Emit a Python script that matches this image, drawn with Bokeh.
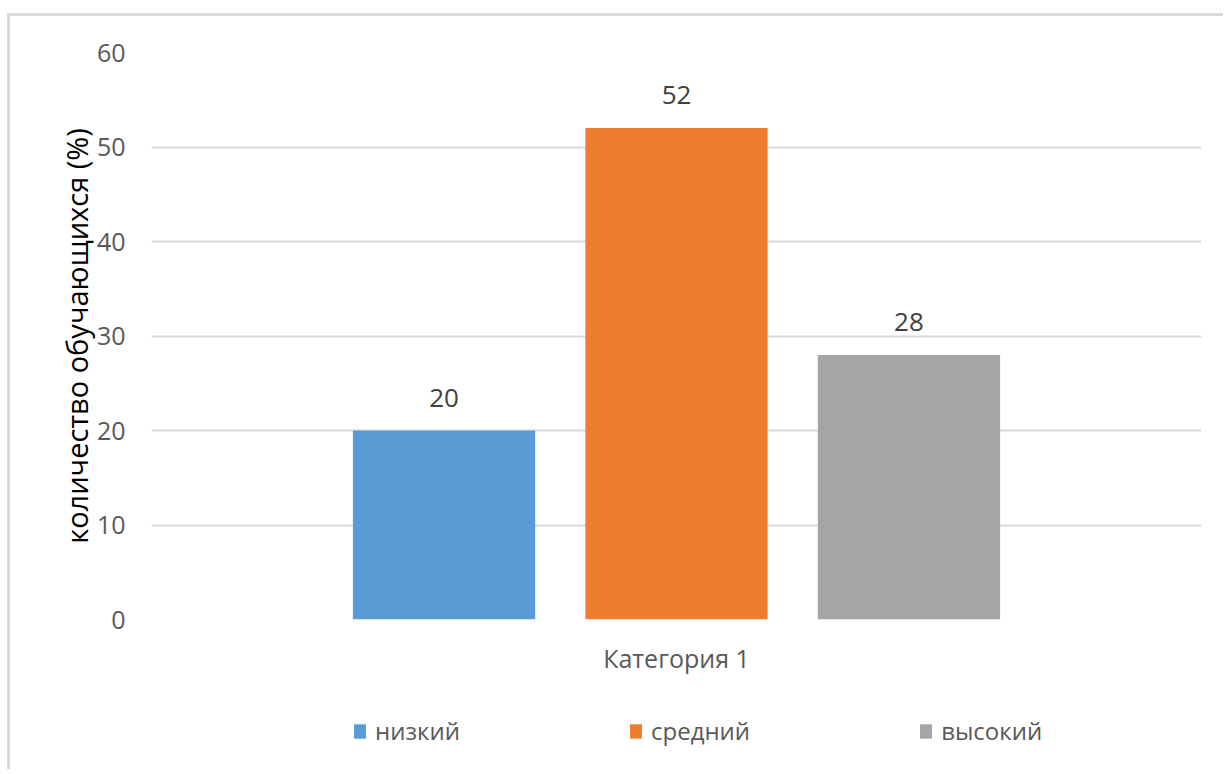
from bokeh.plotting import figure
from bokeh.layouts import column
from bokeh.models import (FactorRange, Range1d, ColumnDataSource, LabelSet, Legend,
                          LegendItem, FixedTicker)
from bokeh.transform import dodge
from bokeh.core.properties import value
from bokeh.embed import file_html
from bokeh.resources import INLINE

categories = ["Категория 1"]
levels = ["низкий", "средний", "высокий"]
values = [20, 52, 28]
colors = ["#5B9BD5", "#ED7D31", "#A5A5A5"]
y_ticks = [0, 10, 20, 30, 40, 50, 60]
y_label = "количество обучающихся (%)"

FONT = "Open Sans"
offsets = [-0.2214, 0.0, 0.2214]
bar_w = 0.1736

p = figure(x_range=FactorRange(*categories, range_padding=0),
           y_range=Range1d(0, 60),
           frame_width=1050, frame_height=567,
           min_border_left=141, min_border_right=22, min_border_top=36, min_border_bottom=80,
           output_backend="svg", toolbar_location=None)
p.outline_line_color = None
p.background_fill_color = "white"

# legend strip below the chart (its bars sit outside its visible y range)
p2 = figure(x_range=p.x_range, y_range=Range1d(100, 101), width=1213, height=70,
            min_border=0, output_backend="svg", toolbar_location=None)
p2.axis.visible = False
p2.grid.visible = False
p2.outline_line_color = None

items = []
for lvl, v, c, off in zip(levels, values, colors, offsets):
    src = ColumnDataSource(dict(cat=categories, val=[v], txt=[str(v)]))
    p.vbar(x=dodge("cat", off, range=p.x_range), top="val", width=bar_w, source=src,
           fill_color=c, line_color=None)
    p.add_layout(LabelSet(x=dodge("cat", off, range=p.x_range), y="val", text="txt", source=src,
                          y_offset=24, text_align="center", text_baseline="alphabetic",
                          text_font=value(FONT), text_font_size="26px", text_color="#404040"))
    r2 = p2.vbar(x=dodge("cat", off, range=p2.x_range), top="val", width=bar_w, source=src,
                 fill_color=c, line_color=None)
    items.append(LegendItem(label=lvl, renderers=[r2]))

p.xgrid.grid_line_color = None
p.ygrid.grid_line_color = "#d9d9d9"
p.ygrid.grid_line_width = 2
p.yaxis.ticker = FixedTicker(ticks=y_ticks)

for ax in (p.xaxis[0], p.yaxis[0]):
    ax.axis_line_color = None
    ax.major_tick_line_color = None
    ax.minor_tick_line_color = None
    ax.major_tick_out = 0
    ax.minor_tick_out = 0
    ax.major_label_text_font = FONT
    ax.major_label_text_font_size = "25px"
    ax.major_label_text_color = "#595959"

p.yaxis.major_label_standoff = 26
p.xaxis.major_label_standoff = 21
p.yaxis.axis_label = y_label
p.yaxis.axis_label_text_font = FONT
p.yaxis.axis_label_text_font_size = "29px"
p.yaxis.axis_label_text_font_style = "normal"
p.yaxis.axis_label_text_color = "black"
p.yaxis.axis_label_standoff = -2

legend = Legend(items=items, orientation="horizontal", location=(201, 22),
                glyph_width=15, glyph_height=18, label_standoff=8, spacing=168,
                label_text_font=FONT, label_text_font_size="24px", label_text_color="#595959",
                border_line_color=None, background_fill_alpha=0, margin=0, padding=0)
p2.add_layout(legend, "center")

layout = column(p, p2, spacing=0)
layout.styles = {"border-left": "3px solid #d9d9d9", "border-top": "3px solid #d9d9d9",
                 "margin-top": "13px", "margin-left": "7px"}

open("out.html", "w").write(file_html(layout, INLINE))
